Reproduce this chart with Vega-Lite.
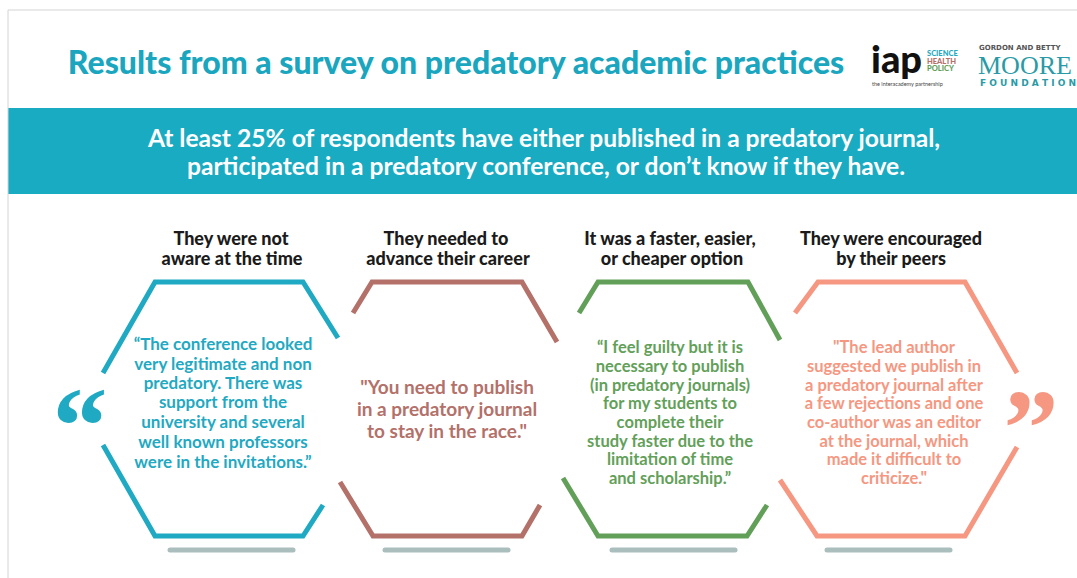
{
  "$schema": "https://vega.github.io/schema/vega-lite/v6.json",
  "width": 1077,
  "height": 578,
  "padding": 0,
  "autosize": {"type": "none"},
  "background": "white",
  "config": {"view": {"stroke": null}},
  "encoding": {
    "x": {"field": "x", "type": "quantitative", "scale": {"domain": [0, 1077], "nice": false, "zero": false}, "axis": null},
    "y": {"field": "y", "type": "quantitative", "scale": {"domain": [0, 578], "nice": false, "zero": false, "reverse": true}, "axis": null}
  },
  "layer": [
    {
      "data": {"values": [{"x": 8, "x2": 1077, "y": 108, "y2": 194}]},
      "mark": {"type": "rect", "color": "#19abc2"},
      "encoding": {"x2": {"field": "x2"}, "y2": {"field": "y2"}}
    },
    {
      "data": {"values": [{"x": 8, "x2": 8, "y": 10, "y2": 578}, {"x": 8, "x2": 1077, "y": 10, "y2": 10}]},
      "mark": {"type": "rule", "color": "#d4d4d4", "strokeWidth": 1},
      "encoding": {"x2": {"field": "x2"}, "y2": {"field": "y2"}}
    },
    {
      "data": {"values": [
        {"hex": "aware", "seg": "a1", "i": 1, "x": 103, "y": 373},
        {"hex": "aware", "seg": "a1", "i": 2, "x": 155, "y": 282},
        {"hex": "aware", "seg": "a1", "i": 3, "x": 303, "y": 282},
        {"hex": "aware", "seg": "a1", "i": 4, "x": 338, "y": 338},
        {"hex": "aware", "seg": "a2", "i": 1, "x": 103, "y": 445},
        {"hex": "aware", "seg": "a2", "i": 2, "x": 155, "y": 536},
        {"hex": "aware", "seg": "a2", "i": 3, "x": 303, "y": 536},
        {"hex": "aware", "seg": "a2", "i": 4, "x": 323, "y": 505},
        {"hex": "career", "seg": "b1", "i": 1, "x": 353, "y": 313},
        {"hex": "career", "seg": "b1", "i": 2, "x": 372, "y": 282},
        {"hex": "career", "seg": "b1", "i": 3, "x": 522, "y": 282},
        {"hex": "career", "seg": "b1", "i": 4, "x": 557, "y": 342},
        {"hex": "career", "seg": "b2", "i": 1, "x": 340, "y": 482},
        {"hex": "career", "seg": "b2", "i": 2, "x": 373, "y": 536},
        {"hex": "career", "seg": "b2", "i": 3, "x": 522, "y": 536},
        {"hex": "career", "seg": "b2", "i": 4, "x": 540, "y": 505},
        {"hex": "faster", "seg": "c1", "i": 1, "x": 579, "y": 313},
        {"hex": "faster", "seg": "c1", "i": 2, "x": 598, "y": 282},
        {"hex": "faster", "seg": "c1", "i": 3, "x": 748, "y": 282},
        {"hex": "faster", "seg": "c1", "i": 4, "x": 780, "y": 340},
        {"hex": "faster", "seg": "c2", "i": 1, "x": 563, "y": 478},
        {"hex": "faster", "seg": "c2", "i": 2, "x": 598, "y": 536},
        {"hex": "faster", "seg": "c2", "i": 3, "x": 747, "y": 536},
        {"hex": "faster", "seg": "c2", "i": 4, "x": 767, "y": 505},
        {"hex": "peers", "seg": "d1", "i": 1, "x": 795, "y": 313},
        {"hex": "peers", "seg": "d1", "i": 2, "x": 818, "y": 282},
        {"hex": "peers", "seg": "d1", "i": 3, "x": 965, "y": 282},
        {"hex": "peers", "seg": "d1", "i": 4, "x": 1017, "y": 373},
        {"hex": "peers", "seg": "d2", "i": 1, "x": 780, "y": 480},
        {"hex": "peers", "seg": "d2", "i": 2, "x": 817, "y": 536},
        {"hex": "peers", "seg": "d2", "i": 3, "x": 965, "y": 536},
        {"hex": "peers", "seg": "d2", "i": 4, "x": 1017, "y": 447}
      ]},
      "mark": {"type": "line", "strokeWidth": 5, "strokeJoin": "miter"},
      "encoding": {
        "detail": {"field": "seg"},
        "order": {"field": "i", "type": "quantitative"},
        "color": {"field": "hex", "type": "nominal", "legend": null, "scale": {"domain": ["aware", "career", "faster", "peers"], "range": ["#1fa9c2", "#b3716a", "#62a059", "#f59781"]}}
      }
    },
    {
      "data": {"values": [
        {"x": 170, "x2": 293, "y": 550},
        {"x": 385, "x2": 508, "y": 550},
        {"x": 612, "x2": 735, "y": 550},
        {"x": 827, "x2": 950, "y": 550}
      ]},
      "mark": {"type": "rule", "color": "#a9bebd", "strokeWidth": 5, "strokeCap": "round"},
      "encoding": {"x2": {"field": "x2"}}
    },
    {
      "data": {"values": [{"x": 456, "y": 64, "t": "Results from a survey on predatory academic practices"}]},
      "mark": {"type": "text", "font": "Lato", "fontWeight": 900, "fontSize": 32, "color": "#1aa6be", "align": "center", "baseline": "middle"},
      "encoding": {"text": {"field": "t"}}
    },
    {
      "data": {"values": [
        {"x": 544, "y": 140, "t": "At least 25% of respondents have either published in a predatory journal,"},
        {"x": 546, "y": 168, "t": "participated in a predatory conference, or don’t know if they have."}
      ]},
      "mark": {"type": "text", "font": "Lato", "fontWeight": "bold", "fontSize": 24.6, "color": "white", "align": "center", "baseline": "middle"},
      "encoding": {"text": {"field": "t"}}
    },
    {
      "data": {"values": [
        {"x": 231, "y": 240, "t": "They were not"},
        {"x": 232, "y": 260, "t": "aware at the time"},
        {"x": 446, "y": 240, "t": "They needed to"},
        {"x": 448, "y": 260, "t": "advance their career"},
        {"x": 670, "y": 240, "t": "It was a faster, easier,"},
        {"x": 672, "y": 260, "t": "or cheaper option"},
        {"x": 891, "y": 240, "t": "They were encouraged"},
        {"x": 891, "y": 260, "t": "by their peers"}
      ]},
      "mark": {"type": "text", "font": "Lato", "fontWeight": 900, "fontSize": 18, "color": "#1b1b1b", "align": "center", "baseline": "middle"},
      "encoding": {"text": {"field": "t"}}
    },
    {
      "data": {"values": [
        {"hex": "aware", "x": 223, "y": 345, "t": "“The conference looked"},
        {"hex": "aware", "x": 223, "y": 365, "t": "very legitimate and non"},
        {"hex": "aware", "x": 223, "y": 384, "t": "predatory. There was"},
        {"hex": "aware", "x": 223, "y": 403, "t": "support from the"},
        {"hex": "aware", "x": 223, "y": 423, "t": "university and several"},
        {"hex": "aware", "x": 223, "y": 443, "t": "well known professors"},
        {"hex": "aware", "x": 223, "y": 463, "t": "were in the invitations.”"}
      ]},
      "mark": {"type": "text", "font": "Lato", "fontWeight": "bold", "fontSize": 17, "align": "center", "baseline": "middle"},
      "encoding": {
        "text": {"field": "t"},
        "color": {"field": "hex", "type": "nominal", "legend": null}
      }
    },
    {
      "data": {"values": [
        {"hex": "faster", "x": 670, "y": 348, "t": "“I feel guilty but it is"},
        {"hex": "faster", "x": 670, "y": 367, "t": "necessary to publish"},
        {"hex": "faster", "x": 670, "y": 386, "t": "(in predatory journals)"},
        {"hex": "faster", "x": 670, "y": 404, "t": "for my students to"},
        {"hex": "faster", "x": 670, "y": 423, "t": "complete their"},
        {"hex": "faster", "x": 670, "y": 442, "t": "study faster due to the"},
        {"hex": "faster", "x": 670, "y": 460, "t": "limitation of time"},
        {"hex": "faster", "x": 670, "y": 479, "t": "and scholarship.”"},
        {"hex": "peers", "x": 894, "y": 348, "t": "\"The lead author"},
        {"hex": "peers", "x": 894, "y": 367, "t": "suggested we publish in"},
        {"hex": "peers", "x": 894, "y": 386, "t": "a predatory journal after"},
        {"hex": "peers", "x": 894, "y": 404, "t": "a few rejections and one"},
        {"hex": "peers", "x": 894, "y": 423, "t": "co-author was an editor"},
        {"hex": "peers", "x": 894, "y": 442, "t": "at the journal, which"},
        {"hex": "peers", "x": 894, "y": 460, "t": "made it difficult to"},
        {"hex": "peers", "x": 894, "y": 479, "t": "criticize.\""}
      ]},
      "mark": {"type": "text", "font": "Lato", "fontWeight": "bold", "fontSize": 16.5, "align": "center", "baseline": "middle"},
      "encoding": {
        "text": {"field": "t"},
        "color": {"field": "hex", "type": "nominal", "legend": null}
      }
    },
    {
      "data": {"values": [
        {"hex": "career", "x": 447, "y": 388, "t": "\"You need to publish"},
        {"hex": "career", "x": 447, "y": 410, "t": "in a predatory journal"},
        {"hex": "career", "x": 447, "y": 432, "t": "to stay in the race.\""}
      ]},
      "mark": {"type": "text", "font": "Lato", "fontWeight": "bold", "fontSize": 19, "align": "center", "baseline": "middle"},
      "encoding": {
        "text": {"field": "t"},
        "color": {"field": "hex", "type": "nominal", "legend": null}
      }
    },
    {
      "data": {"values": [
        {"hex": "aware", "x": 80, "y": 463, "t": "“"},
        {"hex": "peers", "x": 1031, "y": 465, "t": "”"}
      ]},
      "mark": {"type": "text", "font": "Liberation Serif", "fontWeight": "bold", "fontSize": 110, "align": "center", "baseline": "alphabetic"},
      "encoding": {
        "text": {"field": "t"},
        "color": {"field": "hex", "type": "nominal", "legend": null}
      }
    },
    {
      "data": {"values": [{"x": 871, "y": 73, "t": "iap"}]},
      "mark": {"type": "text", "font": "Lato", "fontWeight": 900, "fontSize": 38, "color": "#111111", "align": "left", "baseline": "alphabetic"},
      "encoding": {"text": {"field": "t"}}
    },
    {
      "data": {"values": [
        {"x": 927, "y": 54, "t": "SCIENCE", "c": "sci"},
        {"x": 927, "y": 61.5, "t": "HEALTH", "c": "hea"},
        {"x": 927, "y": 69, "t": "POLICY", "c": "pol"}
      ]},
      "mark": {"type": "text", "font": "Lato", "fontWeight": 900, "fontSize": 7.5, "align": "left", "baseline": "middle"},
      "encoding": {
        "text": {"field": "t"},
        "color": {"field": "c", "type": "nominal", "legend": null, "scale": {"domain": ["sci", "hea", "pol"], "range": ["#3bb3d0", "#e0705f", "#6fae4c"]}}
      }
    },
    {
      "data": {"values": [{"x": 872, "y": 84, "t": "the interacademy partnership"}]},
      "mark": {"type": "text", "font": "Lato", "fontSize": 5.5, "color": "#444444", "align": "left", "baseline": "middle"},
      "encoding": {"text": {"field": "t"}}
    },
    {
      "data": {"values": [{"x": 979, "y": 48, "t": "GORDON AND BETTY"}]},
      "mark": {"type": "text", "font": "DejaVu Sans", "fontWeight": "bold", "fontSize": 7, "color": "#555555", "align": "left", "baseline": "middle"},
      "encoding": {"text": {"field": "t"}}
    },
    {
      "data": {"values": [{"x": 978, "y": 74, "t": "MOORE"}]},
      "mark": {"type": "text", "font": "Liberation Serif", "fontSize": 26, "color": "#2a9aa7", "align": "left", "baseline": "alphabetic"},
      "encoding": {"text": {"field": "t"}}
    },
    {
      "data": {"values": [{"x": 980, "y": 83, "t": "F O U N D A T I O N"}]},
      "mark": {"type": "text", "font": "DejaVu Sans", "fontWeight": "bold", "fontSize": 9, "color": "#2a9aa7", "align": "left", "baseline": "middle"},
      "encoding": {"text": {"field": "t"}}
    }
  ]
}
